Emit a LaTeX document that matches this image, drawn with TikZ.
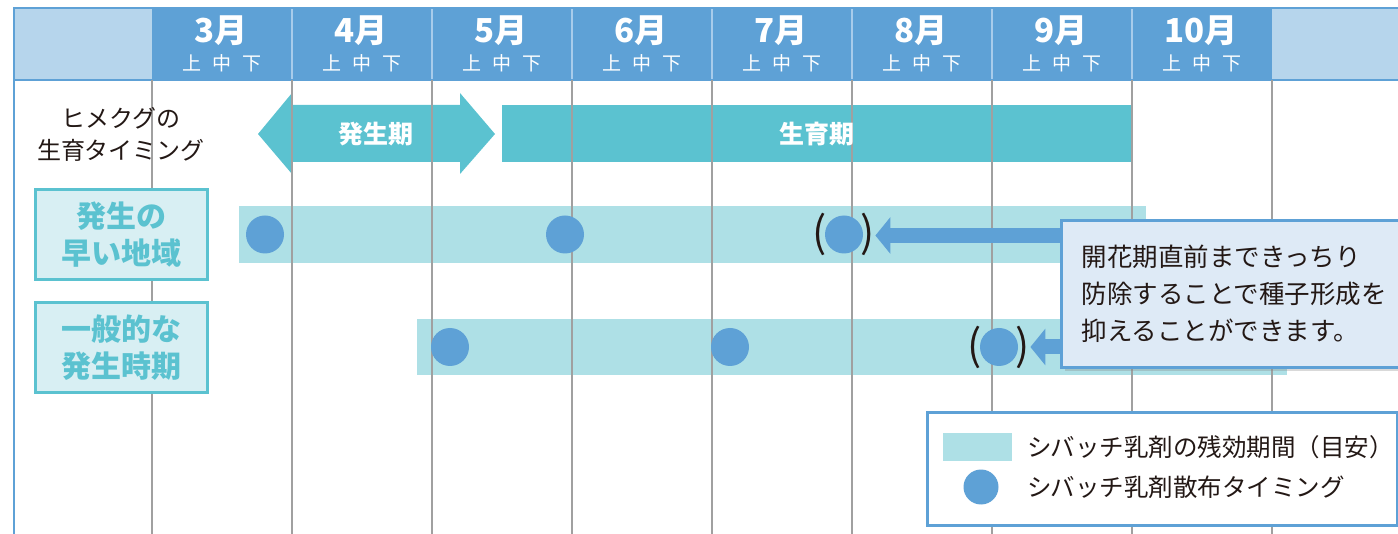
\documentclass[tikz,border=0pt]{standalone}
\usepackage{fontspec}
\setmainfont{Noto Sans CJK JP}
\usepackage{tikz}
\usetikzlibrary{positioning,arrows.meta,shadows}

\definecolor{hdrblue}{HTML}{5EA1D6}
\definecolor{hdrlight}{HTML}{B6D5EC}
\definecolor{hdrline}{HTML}{A8CCEB}
\definecolor{stage}{HTML}{5BC2D0}
\definecolor{resteal}{HTML}{AEE0E6}
\definecolor{labelfill}{HTML}{D8EFF3}
\definecolor{notefill}{HTML}{DEEAF6}
\definecolor{gridgray}{HTML}{A0A0A0}
\definecolor{ink}{HTML}{231815}

\begin{document}
\begin{tikzpicture}[x=1pt,y=-1pt,
		month/.style={text=white,inner sep=0pt,font=\bfseries\fontsize{33}{33}\selectfont},
		thirds/.style={text=white,inner sep=0pt,font=\fontsize{19}{19}\selectfont},
		timing/.style={text=ink,align=center,inner sep=0pt,font=\fontsize{24}{32}\selectfont},
		stagetext/.style={text=white,inner sep=0pt,font=\bfseries\fontsize{25}{25}\selectfont},
		rowlabel/.style={draw=stage,line width=3pt,fill=labelfill,text=stage,align=center,
			minimum width=172pt,minimum height=90pt,inner sep=0pt,
			font=\bfseries\fontsize{30}{37}\selectfont},
		spray/.style={circle,fill=hdrblue,minimum size=38pt,inner sep=0pt},
		paren/.style={text=ink,inner sep=0pt,font=\fontsize{42}{42}\selectfont},
		pointer/.style={draw=hdrblue,line width=15pt,-{Triangle[length=15pt,width=36pt]}},
		grid/.style={draw=gridgray,line width=1.2pt},
		note/.style={draw=hdrblue,line width=3pt,fill=notefill,text=ink,align=left,
			minimum width=370pt,minimum height=147pt,inner xsep=20pt,text width=330pt,
			drop shadow={opacity=0.3,shadow xshift=3pt,shadow yshift=-4pt},
			font=\fontsize{25.5}{37}\selectfont},
		legendtext/.style={text=ink,inner sep=0pt,anchor=west,font=\fontsize{24.5}{24.5}\selectfont}
		]
		\useasboundingbox (0,0) rectangle (1398,534);
		
		%% 見出し
		\fill[hdrlight] (14,8) rectangle (152,80);
		\fill[hdrblue] (152,8) rectangle (1272,80);
		\fill[hdrlight] (1272,8) rectangle (1398,80);
		\foreach \x in {292,432,...,1132}
		\draw[hdrline,line width=1.5pt] (\x,8) -- (\x,80);
		\draw[hdrblue,line width=1.5pt] (1398,8) -- (14,8) -- (14,534);
		\draw[hdrblue,line width=1.5pt] (14,80) -- (1398,80);
		\foreach \m [count=\i from 0] in {3,...,10} {
			\node[month] (m\m) at (221+140*\i,31) {\m{}月};
			\node[thirds] (t\m) at (222+140*\i,63) {上\hspace{11pt}中\hspace{11pt}下};
		}
		
		%% 生育ステージ
		\fill[stage] (258,134) -- (292,93) -- (292,105) -- (460,105) -- (460,93) -- (495,134)
		-- (460,174) -- (460,162) -- (292,162) -- (292,174) -- cycle;
		\fill[stage] (502,105) rectangle (1132,162);
		
		%% 残効期間
		\fill[resteal] (239,206) rectangle (1146,263);
		\fill[resteal] (417,319) rectangle (1287,375);
		
		\foreach \x in {152,292,...,1272}
		\draw[grid] (\x,80) -- (\x,534);
		
		\node[stagetext] (emerge) at (376,134) {発生期};
		\node[stagetext] (grow) at (817,134) {生育期};
		\node[timing] (title) at (121,134) {ヒメクグの\\生育タイミング};
		\node[rowlabel] (early) at (121,234.5) {発生の\\早い地域};
		\node[rowlabel] (usual) at (121,348) {一般的な\\発生時期};
		
		%% 散布タイミング
		\foreach \x [count=\i] in {265,565,844}
		\node[spray] (a\i) at (\x,234.5) {};
		\foreach \x [count=\i] in {450,730,999}
		\node[spray] (b\i) at (\x,347) {};
		\node[paren] (pa) at (a3) {(\hspace{34pt})};
		\node[paren] (pb) at (b3) {(\hspace{34pt})};
		
		\coordinate (fa) at (1080,235.5);
		\coordinate (fb) at (1080,347);
		\draw[pointer] (fa) -- (pa.east |- fa);
		\draw[pointer] (fb) -- (pb.east);
		
		%% 吹き出し
		\node[note,anchor=north west] (memo) at (1060,219)
		{開花期直前まできっちり\\防除することで種子形成を\\抑えることができます。};
		
		%% 凡例
		\node[draw=hdrblue,line width=3pt,fill=white,anchor=north west,
		minimum width=470pt,minimum height=113pt] (legend) at (926,411) {};
		\node[fill=resteal,minimum width=69pt,minimum height=28pt,inner sep=0pt] (key1) at (977.5,447) {};
		\node[spray,minimum size=35pt] (key2) at (981,487) {};
		\node[legendtext] (lab1) at (1027,447) {シバッチ乳剤の残効期間（目安）};
		\node[legendtext] (lab2) at (1027,487) {シバッチ乳剤散布タイミング};
	\end{tikzpicture}
\end{document}
